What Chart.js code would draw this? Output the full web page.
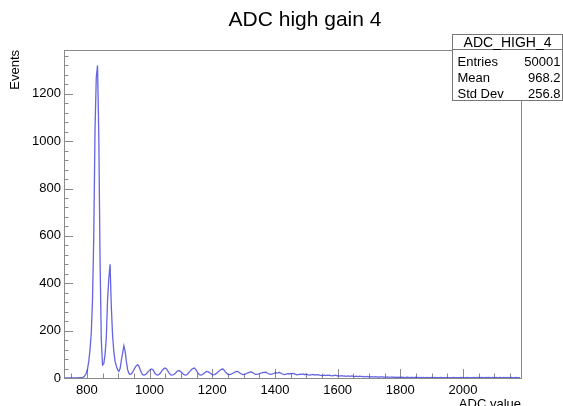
<!DOCTYPE html>
<html>
<head>
<meta charset="utf-8">
<script src="https://cdn.jsdelivr.net/npm/chart.js@4.4.1/dist/chart.umd.min.js"></script>
<style>
  html, body { margin: 0; padding: 0; background: #fff; }
  #wrap { width: 563px; height: 406px; position: relative; }
</style>
</head>
<body>
<div id="wrap"><canvas id="adcChart" width="563" height="406"></canvas></div>
<script>
// Histogram binning (ADC counts) and bin contents
const BIN_LOW = 728;
const BIN_WIDTH = 4;
const counts = [
  0, 0, 0, 0, 0, 0, 0, 0, 0, 0,                 // 728
  0, 1, 1, 2, 3, 5, 10, 20, 38, 70,             // 768
  120, 190, 330, 600, 1050, 1270, 1320, 1020, 500, 160, // 808
  55, 60, 100, 170, 330, 420, 480, 300, 180, 110,       // 848
  70, 50, 35, 28, 40, 75, 105, 136, 112, 70,    // 888
  35, 20, 15, 18, 25, 35, 45, 52, 56, 50,       // 928
  35, 22, 14, 12, 14, 18, 25, 30, 35, 38,       // 968
  36, 28, 18, 14, 12, 15, 20, 28, 35, 40,       // 1008
  42, 38, 30, 22, 15, 12, 13, 16, 20, 25,       // 1048
  30, 32, 28, 24, 18, 14, 12, 13, 18, 24,       // 1088
  30, 36, 40, 42, 38, 30, 22, 15, 12, 13,       // 1128
  16, 20, 24, 28, 27, 24, 20, 16, 13, 14,       // 1168
  16, 20, 25, 30, 34, 37, 38, 33, 26, 20,       // 1208
  15, 14, 15, 17, 20, 23, 26, 28, 27, 23,       // 1248
  19, 16, 14, 15, 17, 20, 22, 24, 26, 25,       // 1288
  22, 18, 15, 15, 16, 18, 20, 22, 24, 23,       // 1328
  25, 22, 19, 17, 15, 16, 18, 20, 23, 21,       // 1368
  22, 24, 21, 18, 16, 14, 15, 17, 18, 17,       // 1408
  19, 18, 20, 17, 15, 13, 14, 15, 16, 15,       // 1448
  17, 14, 16, 15, 13, 12, 13, 14, 15, 12,       // 1488
  14, 13, 14, 12, 11, 10, 11, 12, 10, 12,       // 1528
  11, 12, 10, 9, 11, 10, 12, 9, 10, 8,          // 1568
  9, 10, 8, 9, 7, 8, 9, 7, 8, 9,                // 1608
  7, 6, 8, 7, 6, 8, 7, 6, 7, 5,                 // 1648
  6, 7, 5, 6, 5, 6, 4, 5, 6, 4,                 // 1688
  5, 4, 6, 4, 5, 4, 3, 5, 4, 3,                 // 1728
  4, 5, 3, 4, 3, 4, 3, 4, 3, 4,                 // 1768
  3, 2, 3, 4, 3, 2, 3, 3, 2, 3,                 // 1808
  4, 2, 3, 2, 3, 2, 3, 2, 2, 3,                 // 1848
  2, 2, 3, 2, 2, 3, 2, 1, 2, 2,                 // 1888
  3, 2, 1, 2, 2, 1, 2, 2, 1, 2,                 // 1928
  3, 2, 1, 2, 2, 1, 2, 1, 2, 2,                 // 1968
  1, 2, 1, 2, 2, 1, 2, 1, 1, 2,                 // 2008
  1, 2, 1, 2, 1, 1, 2, 1, 2, 1,                 // 2048
  1, 2, 1, 1, 2, 1, 1, 2, 1, 1,                 // 2088
  2, 1, 1, 2, 1, 1, 2, 1, 1, 1,                 // 2128
  2, 1, 1, 1                                    // 2168
];

// Axis ranges and ticks
const xRange = [727, 2185];
const yRange = [0, 1385];
const xMajorStep = 200, xMinorStep = 50;
const yMajorStep = 200, yMinorStep = 40;

// Texts
const titleText = "ADC high gain 4";
const xTitle = "ADC value";
const yTitle = "Events";
const statsName = "ADC_HIGH_4";
const statsLabels = ["Entries", "Mean", "Std Dev"];
const statsValues = ["50001", "968.2", "256.8"];

const FONT = "'Liberation Sans', Arial, Helvetica, sans-serif";

const points = counts.map((c, i) => ({ x: BIN_LOW + BIN_WIDTH * (i + 0.5), y: c }));

// Frame, inside ticks, titles and stats box (ROOT style)
const rootDecor = {
  id: "rootDecor",
  beforeDatasetsDraw(chart) {
    const { ctx, chartArea: a, scales } = chart;
    ctx.save();
    ctx.strokeStyle = "#8a8a8a";
    ctx.lineWidth = 1;
    ctx.strokeRect(Math.round(a.left) + 0.5, Math.round(a.top) + 0.5,
      Math.round(a.right - a.left), Math.round(a.bottom - a.top));

    ctx.beginPath();
    for (let v = Math.ceil(xRange[0] / xMinorStep) * xMinorStep; v <= xRange[1]; v += xMinorStep) {
      const px = Math.round(scales.x.getPixelForValue(v)) + 0.5;
      const len = v % xMajorStep === 0 ? 9 : 4.5;
      ctx.moveTo(px, a.bottom);
      ctx.lineTo(px, a.bottom - len);
    }
    for (let v = 0; v <= yRange[1]; v += yMinorStep) {
      const py = Math.round(scales.y.getPixelForValue(v)) + 0.5;
      const len = v % yMajorStep === 0 ? 9 : 4.5;
      ctx.moveTo(a.left, py);
      ctx.lineTo(a.left + len, py);
    }
    ctx.stroke();
    ctx.restore();
  },
  afterDraw(chart) {
    const { ctx, chartArea: a } = chart;
    ctx.save();
    ctx.fillStyle = "#000";

    // title
    ctx.font = "21px " + FONT;
    ctx.textAlign = "center";
    ctx.textBaseline = "alphabetic";
    ctx.fillText(titleText, 305, 26);

    // axis titles
    ctx.font = "13px " + FONT;
    ctx.textAlign = "right";
    ctx.fillText(xTitle, a.right, 408);
    ctx.save();
    ctx.translate(19, a.top);
    ctx.rotate(-Math.PI / 2);
    ctx.textAlign = "right";
    ctx.fillText(yTitle, 0, 0);
    ctx.restore();

    // stats box
    const bx = 452.5, by = 34.5, bw = 110, bh = 66;
    ctx.fillStyle = "#fff";
    ctx.fillRect(bx, by, bw, bh);
    ctx.strokeStyle = "#777";
    ctx.strokeRect(bx, by, bw, bh);
    ctx.beginPath();
    ctx.moveTo(bx, 49.5);
    ctx.lineTo(bx + bw, 49.5);
    ctx.stroke();

    ctx.fillStyle = "#000";
    ctx.font = "14px " + FONT;
    ctx.textAlign = "center";
    ctx.fillText(statsName, bx + bw / 2, 47);
    ctx.font = "13px " + FONT;
    statsLabels.forEach((lab, i) => {
      const y = 66 + i * 16;
      ctx.textAlign = "left";
      ctx.fillText(lab, bx + 5, y);
      ctx.textAlign = "right";
      ctx.fillText(statsValues[i], bx + bw - 2, y);
    });
    ctx.restore();
  }
};

new Chart(document.getElementById("adcChart"), {
  type: "line",
  data: {
    datasets: [{
      data: points,
      borderColor: "rgba(50, 50, 215, 0.75)",
      borderWidth: 1.3,
      pointRadius: 0,
      tension: 0,
      fill: false
    }]
  },
  options: {
    responsive: false,
    animation: false,
    layout: { padding: { top: 50, right: 42, left: 0, bottom: 0 } },
    plugins: { legend: { display: false }, tooltip: { enabled: false } },
    scales: {
      x: {
        type: "linear",
        min: xRange[0],
        max: xRange[1],
        grid: { display: false, drawTicks: false, tickLength: 0 },
        border: { display: false },
        afterBuildTicks(scale) {
          const t = [];
          for (let v = Math.ceil(xRange[0] / xMajorStep) * xMajorStep; v <= xRange[1]; v += xMajorStep) t.push({ value: v });
          scale.ticks = t;
        },
        afterFit(scale) { scale.height = 28; },
        ticks: {
          color: "#000",
          font: { family: FONT, size: 13 },
          padding: 5,
          maxRotation: 0,
          autoSkip: false,
          callback: (v) => String(v)
        }
      },
      y: {
        min: yRange[0],
        max: yRange[1],
        grid: { display: false, drawTicks: false, tickLength: 0 },
        border: { display: false },
        afterBuildTicks(scale) {
          const t = [];
          for (let v = 0; v <= yRange[1]; v += yMajorStep) t.push({ value: v });
          scale.ticks = t;
        },
        afterFit(scale) { scale.width = 64; },
        ticks: {
          color: "#000",
          font: { family: FONT, size: 13 },
          padding: 3,
          autoSkip: false,
          callback: (v) => String(v)
        }
      }
    }
  },
  plugins: [rootDecor]
});
</script>
</body>
</html>
